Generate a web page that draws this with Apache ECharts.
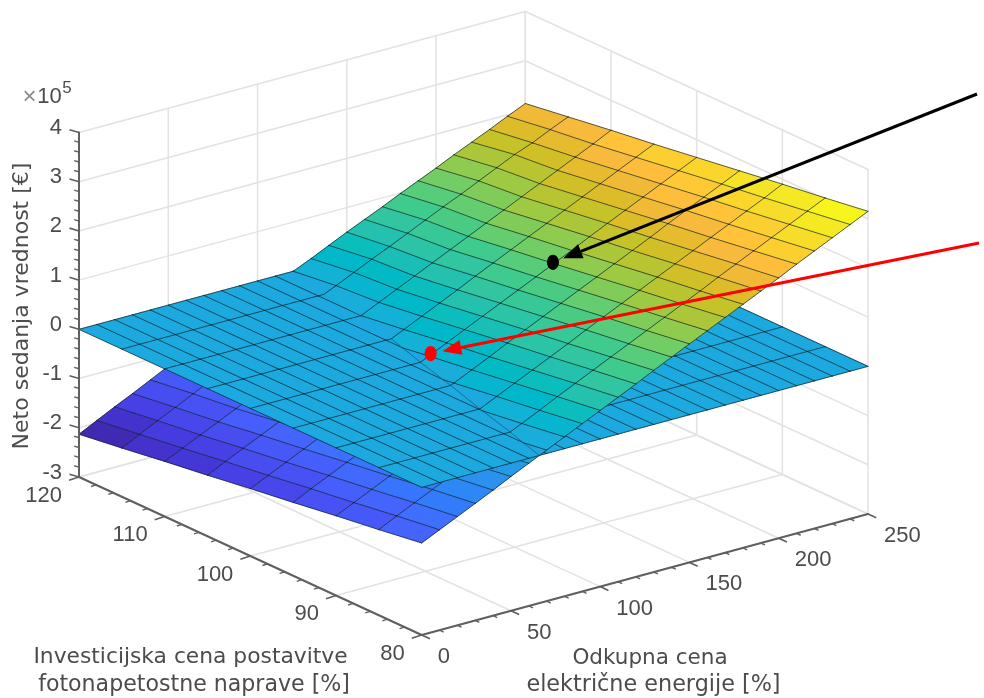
<!DOCTYPE html>
<html>
<head>
<meta charset="utf-8">
<style>html,body{margin:0;padding:0;background:#fff}#c{width:984px;height:698px}</style>
<script src="https://cdn.jsdelivr.net/npm/echarts@6/dist/echarts.min.js"></script>
</head>
<body>
<div id="c"></div>
<script>
// ---- axis values ----
const feedInTicks = [0, 50, 100, 150, 200, 250];
const investTicks = [80, 90, 100, 110, 120];
const npvTicks = [-3, -2, -1, 0, 1, 2, 3, 4];
// ---- mesh ----
const feedInMesh = [0,10,20,30,40,50,60,70,80,90,100,110,120,130,140,150,160,170,180,190,200,210,220,230,240,250];
const investMesh = [80,85,90,95,100,105,110,115,120];
// ---- tilted surface, net present value x 10^5 EUR, one row per investment level ----
const npv080 = [-1.13,-0.96,-0.79,-0.62,-0.45,-0.27,-0.10,0.07,0.24,0.41,0.58,0.75,0.92,1.10,1.27,1.44,1.61,1.78,1.95,2.12,2.29,2.47,2.64,2.81,2.98,3.15];
const npv085 = [-1.26,-1.08,-0.91,-0.74,-0.57,-0.40,-0.23,-0.06,0.11,0.28,0.46,0.63,0.80,0.97,1.14,1.31,1.48,1.65,1.82,2.00,2.17,2.34,2.51,2.68,2.85,3.02];
const npv090 = [-1.38,-1.21,-1.04,-0.87,-0.70,-0.52,-0.35,-0.18,-0.01,0.16,0.33,0.50,0.67,0.84,1.02,1.19,1.36,1.53,1.70,1.87,2.04,2.21,2.38,2.55,2.72,2.90];
const npv095 = [-1.51,-1.33,-1.16,-0.99,-0.82,-0.65,-0.48,-0.31,-0.14,0.03,0.20,0.37,0.55,0.72,0.89,1.06,1.23,1.40,1.57,1.74,1.91,2.09,2.26,2.43,2.60,2.77];
const npv100 = [-1.63,-1.46,-1.29,-1.12,-0.95,-0.78,-0.61,-0.43,-0.26,-0.09,0.08,0.25,0.42,0.59,0.76,0.93,1.10,1.27,1.44,1.62,1.79,1.96,2.13,2.30,2.47,2.64];
const npv105 = [-1.76,-1.58,-1.41,-1.24,-1.07,-0.90,-0.73,-0.56,-0.39,-0.22,-0.05,0.12,0.29,0.46,0.63,0.81,0.98,1.15,1.32,1.49,1.66,1.83,2.00,2.17,2.34,2.51];
const npv110 = [-1.88,-1.71,-1.54,-1.37,-1.20,-1.03,-0.86,-0.69,-0.52,-0.34,-0.17,0.00,0.17,0.34,0.51,0.68,0.85,1.02,1.19,1.36,1.53,1.70,1.87,2.04,2.21,2.39];
const npv115 = [-2.01,-1.83,-1.65,-1.48,-1.30,-1.12,-0.94,-0.76,-0.58,-0.41,-0.23,-0.05,0.11,0.28,0.45,0.61,0.78,0.95,1.12,1.28,1.45,1.62,1.79,1.93,2.10,2.26];
const npv120 = [-2.13,-1.95,-1.77,-1.60,-1.42,-1.24,-1.06,-0.89,-0.71,-0.53,-0.35,-0.18,0.00,0.16,0.33,0.50,0.66,0.82,0.99,1.15,1.31,1.48,1.64,1.80,1.97,2.13];
const tilted = [npv080, npv085, npv090, npv095, npv100, npv105, npv110, npv115, npv120];
// ---- flat surface: zero at every mesh point ----
const flatLevel = 0;
// ---- marked points [feed-in %, investment %, npv] ----
const blackPoint = [169.5, 100, 1.30];
const redPoint = [101, 100, 0.12];

// ---- view: orthographic projection of the data box into the hidden page-sized axes ----
const view = {ox:421.7, oy:635, xx:446.3/250, xy:-121/250, yx:-342.7/40, yy:-158/40, zy:-344.5/7};
const proj = (x,y,z) => [view.ox + x*view.xx + (y-80)*view.yx, view.oy + x*view.xy + (y-80)*view.yy + (z+3)*view.zy];

const parula = [[.2422,.1504,.6603],[.2504,.1650,.7076],[.2578,.1818,.7511],[.2647,.1978,.7952],[.2706,.2147,.8364],[.2751,.2342,.8710],[.2783,.2559,.8991],[.2803,.2782,.9221],[.2813,.3006,.9414],[.2810,.3228,.9579],[.2795,.3447,.9717],[.2760,.3667,.9829],[.2699,.3892,.9906],[.2602,.4123,.9952],[.2440,.4358,.9988],[.2206,.4603,.9973],[.1963,.4847,.9892],[.1834,.5074,.9798],[.1786,.5289,.9682],[.1764,.5499,.9520],[.1687,.5703,.9359],[.1540,.5902,.9218],[.1460,.6091,.9079],[.1380,.6276,.8973],[.1248,.6459,.8883],[.1113,.6635,.8763],[.0952,.6798,.8598],[.0689,.6948,.8394],[.0297,.7082,.8163],[.0036,.7203,.7917],[.0067,.7312,.7660],[.0433,.7411,.7394],[.0964,.7500,.7120],[.1408,.7584,.6842],[.1717,.7670,.6554],[.1938,.7758,.6251],[.2161,.7843,.5923],[.2470,.7918,.5567],[.2906,.7973,.5188],[.3406,.8008,.4789],[.3909,.8029,.4354],[.4456,.8024,.3909],[.5044,.7993,.3480],[.5616,.7942,.3045],[.6174,.7876,.2612],[.6720,.7793,.2227],[.7242,.7698,.1910],[.7738,.7598,.1646],[.8203,.7498,.1535],[.8634,.7406,.1596],[.9035,.7330,.1774],[.9393,.7288,.2100],[.9728,.7298,.2394],[.9956,.7434,.2371],[.9970,.7659,.2199],[.9952,.7893,.2028],[.9892,.8136,.1885],[.9786,.8386,.1766],[.9676,.8639,.1643],[.9610,.8890,.1537],[.9597,.9135,.1423],[.9628,.9373,.1265],[.9691,.9606,.1064],[.9769,.9839,.0805]];
const cMin = -2.13, cMax = 3.15;
function colorOf(z){
  const k = Math.max(0, Math.min(63, Math.floor((z-cMin)/(cMax-cMin)*64)));
  const c = parula[k];
  return 'rgb('+c.map(v=>Math.round(v*255)).join(',')+')';
}

const GRID = 'rgb(226,226,226)', AXIS = 'rgb(95,95,95)', TXT = 'rgb(76,76,76)', EDGE = 'rgba(10,25,30,0.8)';
const SANS = '"Liberation Sans", Arial, sans-serif', WIDE = '"DejaVu Sans", sans-serif';

// ---- item builders (everything in data units, projected at render time) ----
const grid3d = [];
const seg = (a,b,w,c) => ({t:'seg',a,b,w,c});
const [xMin,xMax] = [feedInTicks[0], feedInTicks[feedInTicks.length-1]];
const [yMin,yMax] = [investTicks[0], investTicks[investTicks.length-1]];
const [zMin,zMax] = [npvTicks[0], npvTicks[npvTicks.length-1]];
feedInTicks.forEach(x=>{
  if(x>xMin) grid3d.push(seg([x,yMax,zMin],[x,yMax,zMax],1.5,GRID));
  grid3d.push(seg([x,yMin,zMin],[x,yMax,zMin],1.5,GRID));
});
investTicks.forEach(y=>{
  grid3d.push(seg([xMax,y,zMin],[xMax,y,zMax],1.5,GRID));
  grid3d.push(seg([xMin,y,zMin],[xMax,y,zMin],1.5,GRID));
});
npvTicks.forEach(z=>{
  grid3d.push(seg([xMin,yMax,z],[xMax,yMax,z],1.5,GRID));
  grid3d.push(seg([xMax,yMin,z],[xMax,yMax,z],1.5,GRID));
});

function lerp3(a,b,t){return [a[0]+(b[0]-a[0])*t,a[1]+(b[1]-a[1])*t,a[2]+(b[2]-a[2])*t];}
function clipPoly(pts, sign){
  const out=[];
  for(let i=0;i<pts.length;i++){
    const a=pts[i], b=pts[(i+1)%pts.length];
    const da=sign*(a[2]-flatLevel), db=sign*(b[2]-flatLevel);
    if(da>=0) out.push(a);
    if((da>0&&db<0)||(da<0&&db>0)) out.push(lerp3(a,b,da/(da-db)));
  }
  return out;
}
function clipSeg(a,b,sign){
  const da=sign*(a[2]-flatLevel), db=sign*(b[2]-flatLevel);
  if(da<0&&db<0) return null;
  if(da>=0&&db>=0) return [a,b];
  const m=lerp3(a,b,da/(da-db));
  return da>=0?[a,m]:[m,b];
}
const fillsLow=[],fillsHigh=[],linesLow=[],linesHigh=[],fillsFlat=[],linesFlat=[],seam=[];
const V=(i,j)=>[feedInMesh[i],investMesh[j],tilted[j][i]];
const F=(i,j)=>[feedInMesh[i],investMesh[j],flatLevel];
const nx=feedInMesh.length, ny=investMesh.length;
for(let j=0;j<ny-1;j++) for(let i=0;i<nx-1;i++){
  const q=[V(i,j),V(i+1,j),V(i+1,j+1),V(i,j+1)];
  const col=colorOf((q[0][2]+q[1][2]+q[2][2]+q[3][2])/4);
  const lo=clipPoly(q,-1), hi=clipPoly(q,1);
  if(lo.length>2) fillsLow.push({t:'poly',p:lo,c:col});
  if(hi.length>2) fillsHigh.push({t:'poly',p:hi,c:col});
  const cross=[];
  for(let k=0;k<4;k++){
    const a=q[k],b=q[(k+1)%4];
    if((a[2]-flatLevel)*(b[2]-flatLevel)<0) cross.push(lerp3(a,b,(flatLevel-a[2])/(b[2]-a[2])));
  }
  if(cross.length===2) seam.push(seg(cross[0],cross[1],0.8,'rgba(15,40,55,0.55)'));
  const f=[F(i,j),F(i+1,j),F(i+1,j+1),F(i,j+1)];
  fillsFlat.push({t:'poly',p:f,c:colorOf(flatLevel)});
}
function addEdge(a,b){
  const l=clipSeg(a,b,-1), h=clipSeg(a,b,1);
  if(l) linesLow.push(seg(l[0],l[1],0.85,EDGE));
  if(h) linesHigh.push(seg(h[0],h[1],0.85,EDGE));
}
for(let j=0;j<ny;j++) for(let i=0;i<nx;i++){
  if(i<nx-1){addEdge(V(i,j),V(i+1,j)); linesFlat.push(seg(F(i,j),F(i+1,j),0.85,EDGE));}
  if(j<ny-1){addEdge(V(i,j),V(i,j+1)); linesFlat.push(seg(F(i,j),F(i,j+1),0.85,EDGE));}
}

// ---- axis lines, ticks ----
const axisItems=[];
const tick=(pt,dx,dy,w)=>({t:'tick',pt,dx,dy,w});
axisItems.push(seg([xMin,yMin,zMin],[xMax,yMin,zMin],2,AXIS));
axisItems.push(seg([xMin,yMin,zMin],[xMin,yMax,zMin],2,AXIS));
axisItems.push(seg([xMin,yMax,zMin],[xMin,yMax,zMax],2,AXIS));
for(let k=0;k<feedInTicks.length;k++){
  const v=feedInTicks[k];
  axisItems.push(tick([v,yMin,zMin],8.2,3.8,1.6));
  if(k<feedInTicks.length-1) for(let m=1;m<5;m++) axisItems.push(tick([v+m*10,yMin,zMin],4.1,1.9,1.4));
}
for(let k=0;k<investTicks.length;k++){
  const v=investTicks[k];
  axisItems.push(tick([xMin,v,zMin],-10,3.3,1.6));
  if(k<investTicks.length-1) for(let m=1;m<5;m++) axisItems.push(tick([xMin,v+m*2,zMin],-5,1.6,1.4));
}
for(let k=0;k<npvTicks.length;k++){
  const v=npvTicks[k];
  axisItems.push(tick([xMin,yMax,v],-9.5,-2.8,1.6));
  if(k<npvTicks.length-1) for(let m=1;m<5;m++) axisItems.push(tick([xMin,yMax,v+m*0.2],-4.8,-1.4,1.4));
}

// ---- tick labels and titles ----
const labelItems=[];
feedInTicks.forEach(v=>labelItems.push({t:'lab',pt:[v,yMin,zMin],dx:16,dy:22,s:String(v),al:'left'}));
investTicks.forEach(v=>labelItems.push({t:'lab',pt:[xMin,v,zMin],dx:-17,dy:18.5,s:String(v),al:'right'}));
npvTicks.forEach(v=>labelItems.push({t:'lab',pt:[xMin,yMax,v],dx:-17,dy:-4.5,s:String(v),al:'right'}));
const titleItems=[
  {s:'Neto sedanja vrednost [€]',x:22,y:306,rot:Math.PI/2,size:22,font:WIDE},
  {s:'Investicijska cena postavitve',x:190.5,y:657,size:21.8,font:WIDE},
  {s:'fotonapetostne naprave [%]',x:194,y:685,size:22.1,font:WIDE},
  {s:'Odkupna cena',x:650,y:658,size:21.5,font:WIDE},
  {s:'električne energije [%]',x:653.5,y:685,size:22.3,font:WIDE},
  {s:'×',x:29.5,y:97,size:24,font:SANS,col:'rgb(140,140,140)'},
  {s:'10',x:49.5,y:97,size:22,font:SANS},
  {s:'5',x:67,y:88,size:17,font:SANS}
];
const arrowItems=[
  {tail:[977,94],target:blackPoint,gap:11,col:'#000'},
  {tail:[979,243],target:redPoint,gap:12,col:'#f00'}
];

// ---- draw ----
function draw(it,api){
  const P=p=>api.coord(proj(p[0],p[1],p[2]));
  if(it.t==='poly'){
    const pts=it.p.map(P);
    return {type:'polygon',shape:{points:pts},style:{fill:it.c,stroke:it.c,lineWidth:0.5},silent:true};
  }
  if(it.t==='seg'){
    const a=P(it.a),b=P(it.b);
    return {type:'line',shape:{x1:a[0],y1:a[1],x2:b[0],y2:b[1]},style:{stroke:it.c,lineWidth:it.w,lineCap:'round'},silent:true};
  }
  if(it.t==='tick'){
    const a=P(it.pt);
    return {type:'line',shape:{x1:a[0],y1:a[1],x2:a[0]+it.dx,y2:a[1]+it.dy},style:{stroke:AXIS,lineWidth:it.w},silent:true};
  }
  if(it.t==='lab'){
    const a=P(it.pt);
    return {type:'text',x:a[0]+it.dx,y:a[1]+it.dy,style:{text:it.s,fill:TXT,fontSize:22,fontFamily:SANS,textAlign:it.al,textVerticalAlign:'middle'},silent:true};
  }
  return null;
}
function layer(name,items,fn,z){
  return {type:'custom',name,coordinateSystem:'cartesian2d',clip:false,silent:true,z,animation:false,
    data:items.map((_,i)=>[i]),
    encode:{x:0,y:0},
    renderItem:(params,api)=>(fn||draw)(items[api.value(0)],api)};
}
function drawTitle(it,api){
  const a=api.coord([it.x,it.y]);
  return {type:'text',x:a[0],y:a[1],rotation:it.rot||0,style:{text:it.s,fill:it.col||TXT,fontSize:it.size,fontFamily:it.font,textAlign:'center',textVerticalAlign:'middle'},silent:true};
}
function drawArrow(it,api){
  const dot=api.coord(proj(it.target[0],it.target[1],it.target[2]));
  const tail=api.coord(it.tail);
  const dx=tail[0]-dot[0],dy=tail[1]-dot[1],L=Math.hypot(dx,dy),ux=dx/L,uy=dy/L;
  const tip=[dot[0]+ux*it.gap,dot[1]+uy*it.gap];
  const hl=19,hw=7.5;
  const base=[tip[0]+ux*hl,tip[1]+uy*hl];
  return {type:'group',children:[
    {type:'line',shape:{x1:tail[0],y1:tail[1],x2:base[0],y2:base[1]},style:{stroke:it.col,lineWidth:3},silent:true},
    {type:'polygon',shape:{points:[tip,[base[0]-uy*hw,base[1]+ux*hw],[base[0]+uy*hw,base[1]-ux*hw]]},style:{fill:it.col},silent:true},
    {type:'ellipse',shape:{cx:dot[0],cy:dot[1],rx:6,ry:7.6},style:{fill:it.col},silent:true}
  ]};
}

const chart=echarts.init(document.getElementById('c'),null,{renderer:'canvas'});
chart.setOption({
  animation:false,
  backgroundColor:'#fff',
  tooltip:{show:false},
  grid:{left:0,right:0,top:0,bottom:0,containLabel:false},
  xAxis:{type:'value',min:0,max:984,show:false},
  yAxis:{type:'value',min:0,max:698,inverse:true,show:false},
  series:[
    layer('grid',grid3d,null,1),
    layer('tilted surface below zero',fillsLow,null,2),
    layer('tilted mesh below zero',linesLow,null,3),
    layer('flat surface',fillsFlat,null,4),
    layer('flat mesh',linesFlat,null,5),
    layer('tilted surface above zero',fillsHigh,null,6),
    layer('tilted mesh above zero',linesHigh,null,7),
    layer('seam',seam,null,8),
    layer('axes',axisItems,null,9),
    layer('tick labels',labelItems,null,10),
    layer('titles',titleItems,drawTitle,10),
    layer('arrows',arrowItems,drawArrow,11)
  ]
});
</script>
</body>
</html>
